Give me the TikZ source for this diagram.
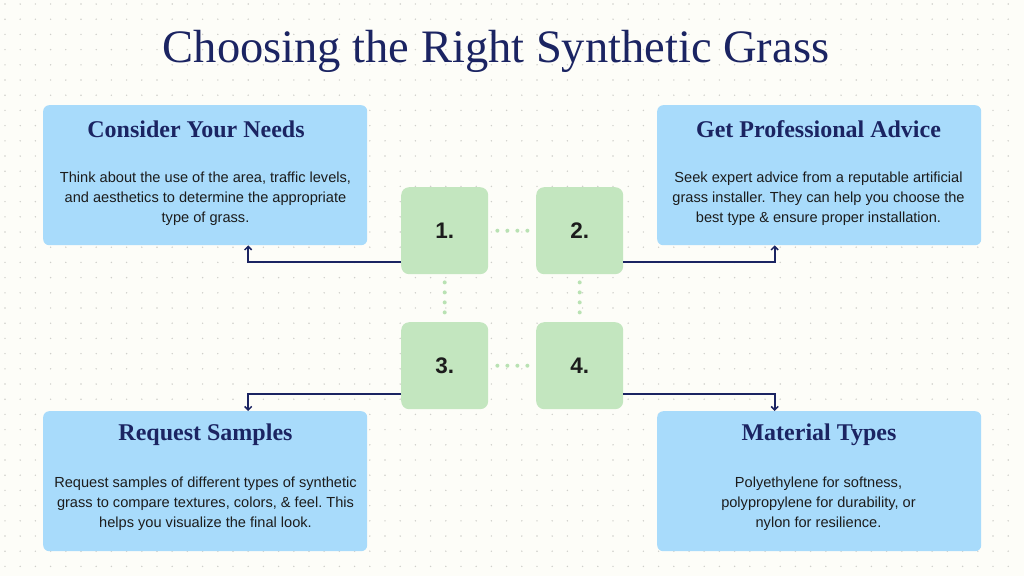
\documentclass[tikz,border=0pt]{standalone}
\usepackage{fontspec}
\setmainfont{Liberation Sans}
\newfontfamily\serifface{Liberation Serif}
\usetikzlibrary{arrows.meta}
\frenchspacing
\definecolor{bgc}{HTML}{FDFDF8}
\definecolor{dotc}{HTML}{CFCFCA}
\definecolor{boxblue}{HTML}{A8DBFB}
\definecolor{boxgreen}{HTML}{C3E6BF}
\definecolor{linkgreen}{HTML}{B9E2B3}
\definecolor{navy}{HTML}{1B2462}
\definecolor{bodyc}{HTML}{1C1C1C}
\tikzset{
  infobox/.style={fill=boxblue, rounded corners=6pt, minimum width=324pt, minimum height=140pt, inner sep=0pt, anchor=north west},
  numbox/.style={fill=boxgreen, rounded corners=8pt, minimum width=87pt, minimum height=87pt, inner sep=0pt, anchor=north west, font=\bfseries\fontsize{22.5}{26}\selectfont, text=bodyc},
  headtext/.style={font=\serifface\bfseries\fontsize{24}{28}\selectfont, text=navy, inner sep=0pt},
  bodytext/.style={font=\fontsize{14.6}{20}\selectfont, text=bodyc, align=center, inner sep=0pt},
  conn/.style={draw=navy, line width=1.8pt, -{Straight Barb[length=3.5pt,width=7pt,line width=1.5pt]}},
  gdots/.style={draw=linkgreen, line width=4pt, line cap=round, dash pattern=on 0pt off 10pt}
}
\begin{document}
\begin{tikzpicture}[x=1pt,y=-1pt]
\fill[bgc] (0,0) rectangle (1024,576);
\useasboundingbox (0,0) rectangle (1024,576);
\foreach \i in {0,...,66}{\foreach \j in {0,...,37}{\fill[dotc] (5+15.2*\i,4+15.2*\j) circle (0.8pt);}}
% title
\node[font=\serifface\fontsize{46.5}{52}\selectfont, text=navy, inner sep=0pt] (title) at (496,51) {Choosing the Right Synthetic Grass};
% info boxes
\node[infobox] (b1) at (43,105) {};
\node[infobox] (b2) at (657,105) {};
\node[infobox] (b3) at (43,411) {};
\node[infobox] (b4) at (657,411) {};
% number boxes
\node[numbox] (s1) at (401,187) {1.};
\node[numbox] (s2) at (536,187) {2.};
\node[numbox] (s3) at (401,322) {3.};
\node[numbox] (s4) at (536,322) {4.};
% headings
\node[headtext] (h1) at (196,129) {Consider Your Needs};
\node[headtext] (h2) at (818.5,129) {Get Professional Advice};
\node[headtext] (h3) at (205.5,435) {Request Samples};
\node[headtext] (h4) at (819,435) {Material Types};
% body
\node[bodytext] (t1) at (205.5,198.5) {Think about the use of the area, traffic levels,\\and aesthetics to determine the appropriate\\type of grass.};
\node[bodytext] (t2) at (818.5,198.5) {Seek expert advice from a reputable artificial\\grass installer. They can help you choose the\\best type \& ensure proper installation.};
\node[bodytext] (t3) at (205.5,504) {Request samples of different types of synthetic\\grass to compare textures, colors, \& feel. This\\helps you visualize the final look.};
\node[bodytext] (t4) at (818.5,504) {Polyethylene for softness,\\polypropylene for durability, or\\nylon for resilience.};
% dotted green links
\draw[gdots] ([xshift=9pt]s1.east) -- ([xshift=-8.5pt]s2.west);
\draw[gdots] ([xshift=9pt]s3.east) -- ([xshift=-8.5pt]s4.west);
\draw[gdots] ([yshift=-8pt]s1.south) -- ([yshift=8.5pt]s3.north);
\draw[gdots] ([yshift=-8pt]s2.south) -- ([yshift=8.5pt]s4.north);
% connectors
\draw[conn] ([yshift=-31pt]s1.west) -| ([xshift=43pt]b1.south);
\draw[conn] ([yshift=-31pt]s2.east) -| ([xshift=-44.5pt]b2.south);
\draw[conn] ([yshift=-28.5pt]s3.west) -| ([xshift=43pt]b3.north);
\draw[conn] ([yshift=-28.5pt]s4.east) -| ([xshift=-44.5pt]b4.north);
\end{tikzpicture}
\end{document}
